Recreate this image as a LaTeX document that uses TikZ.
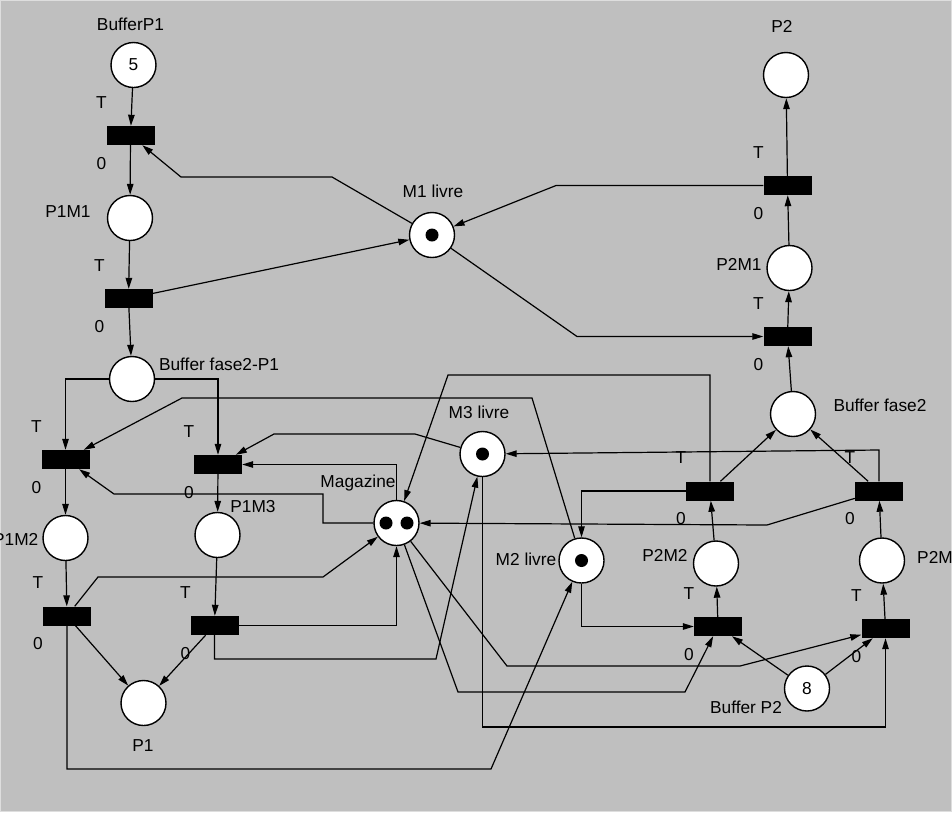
\documentclass[tikz,border=0pt]{standalone}
\usepackage{fontspec}
\setmainfont{Liberation Sans}
\usetikzlibrary{arrows.meta}

\begin{document}
\begin{tikzpicture}[x=1pt, y=-1pt, font=\fontsize{17.3}{20}\selectfont,
  place/.style={circle, draw, fill=white, line width=1.4pt, minimum size=45pt, inner sep=0pt},
  trans/.style={rectangle, fill=black, minimum width=48pt, minimum height=19pt, inner sep=0pt},
  tok/.style={circle, fill=black, minimum size=13pt, inner sep=0pt},
  arc/.style={-{Triangle[length=11pt,width=6.5pt]}, line width=1.2pt}]
\definecolor{area}{gray}{0.75}
\definecolor{rim}{gray}{0.87}
\useasboundingbox (0,0) rectangle (952,812);
\draw[rim, fill=area, line width=1pt] (0.5,0.5) rectangle (951.5,811.5);

% places
\node[place] (bp1) at (133.5,65) {5};
\node[place] (p1m1) at (130,218) {};
\node[place] (m1) at (432,235) {};
\node[place] (p2) at (786,75) {};
\node[place] (p2m1) at (789.5,268) {};
\node[place] (bf2p1) at (132,379) {};
\node[place] (bf2) at (793,414) {};
\node[place] (m3) at (482.5,454) {};
\node[place] (mag) at (396.5,523) {};
\node[place] (p1m2) at (65.5,538) {};
\node[place] (p1m3) at (217.5,535) {};
\node[place] (m2) at (581.5,560.5) {};
\node[place] (p2m2) at (716,563.5) {};
\node[place] (p2m3) at (882,560.5) {};
\node[place] (p1) at (143.5,703) {};
\node[place] (bp2) at (807,688.5) {8};

% tokens
\node[tok] (m1tok) at (m1) {};
\node[tok] (m3tok) at (m3) {};
\node[tok] (m2tok) at (m2) {};
\node[tok] (magtokA) at (386,523) {};
\node[tok] (magtokB) at (407,523) {};

% transitions
\foreach \n/\x/\y in {t1/130.5/135.5, t2/128.5/298.5, t3/787.5/185.5, t4/787.5/336.5,
  t5/65.5/459.5, t6/218/464.5, t7/67/616, t8/214.5/625.5,
  t9/710/491, t10/879/491, t11/718/626.5, t12/885.5/628.5}{
\node[trans] (\n) at (\x,\y) {};
\node (T\n) at ([shift={(-29,-33)}]\n) {T};
\node (Z\n) at ([shift={(-29,28)}]\n) {0};}

% labels
\node (lbp1) at (130.5,24) {BufferP1};
\node (lp1m1) at (68,212) {P1M1};
\node (lm1) at (433,191) {M1 livre};
\node (lp2) at (782,26) {P2};
\node (lp2m1) at (739,264) {P2M1};
\node (lbf2p1) at (219,364) {Buffer fase2-P1};
\node (lbf2) at (880,405) {Buffer fase2};
\node (lm3) at (479,412) {M3 livre};
\node (lmag) at (358,483) {Magazine};
\node[anchor=east, inner sep=0pt] (lp1m2) at (38.5,539) {P1M2};
\node (lp1m3) at (253,507) {P1M3};
\node (lm2) at (526,559) {M2 livre};
\node (lp2m2) at (665,555) {P2M2};
\node[anchor=west, inner sep=0pt] (lp2m3) at (917,558) {P2M3};
\node (lp1) at (143,746) {P1};
\node (lbp2) at (746,707) {Buffer P2};

% arcs
\draw[arc] (bp1) -- (t1);
\draw[arc] (t1) -- (p1m1);
\draw[arc] (p1m1) -- (t2);
\draw[arc] (t2) -- (bf2p1);
\draw[arc] (t2) -- (m1);
\draw[arc] (m1) -- (332,177) -- (181,177) -- (t1);
\draw[arc] (t3) -- (556,185.5) -- (m1);
\draw[arc] (m1) -- (577,336.5) -- (t4);
\draw[arc] (p2m1) -- (t3);
\draw[arc] (t3) -- (p2);
\draw[arc] (bf2) -- (t4);
\draw[arc] (t4) -- (p2m1);
\draw[arc] (bf2p1.west) -| (t5);
\draw[arc] (bf2p1.east) -| (t6);
\draw[arc] (t5) -- (p1m2);
\draw[arc] (t6) -- (p1m3);
\draw[arc] (p1m2) -- (t7);
\draw[arc] (p1m3) -- (t8);
\draw[arc] (t7) -- (p1);
\draw[arc] (t8) -- (p1);
\draw[arc] (mag.west) -| (323,494) -- (114,494) -- (t5);
\draw[arc] (mag.north) |- (t6);
\draw[arc] (t7) -- (98,577) -- (323,577) -- (mag);
\draw[arc] (t8.east) -| (mag);
\draw[arc] (t8) |- (436,659) -- (m3);
\draw[arc] (t7) |- (491,769) -- (m2);
\draw[arc] (mag) -- (458,692) -- (685,692) -- (t11);
\draw[arc] (mag) -- (507,666) -- (740,666) -- (t12);
\draw[arc] (m3) -- (482.5,727) -| (t12);
\draw[arc] (m3) -- (415,434) -- (274,434) -- (t6);
\draw[arc] (t10) -- (879,450) -- (m3);
\draw[arc] (t10) -- (767,525) -- (mag);
\draw[arc] (t9.west) -| (m2);
\draw[arc] (t9) |- (448,375) -- (mag);
\draw[arc] (m2) -- (532,398) -- (182,398) -- (t5);
\draw[arc] (m2) |- (t11);
\draw[arc] (p2m2) -- (t9);
\draw[arc] (p2m3) -- (t10);
\draw[arc] (t11) -- (p2m2);
\draw[arc] (t12) -- (p2m3);
\draw[arc] (t9) -- (bf2);
\draw[arc] (t10) -- (bf2);
\draw[arc] (bp2) -- (t11);
\draw[arc] (bp2) -- (t12);
\end{tikzpicture}
\end{document}
